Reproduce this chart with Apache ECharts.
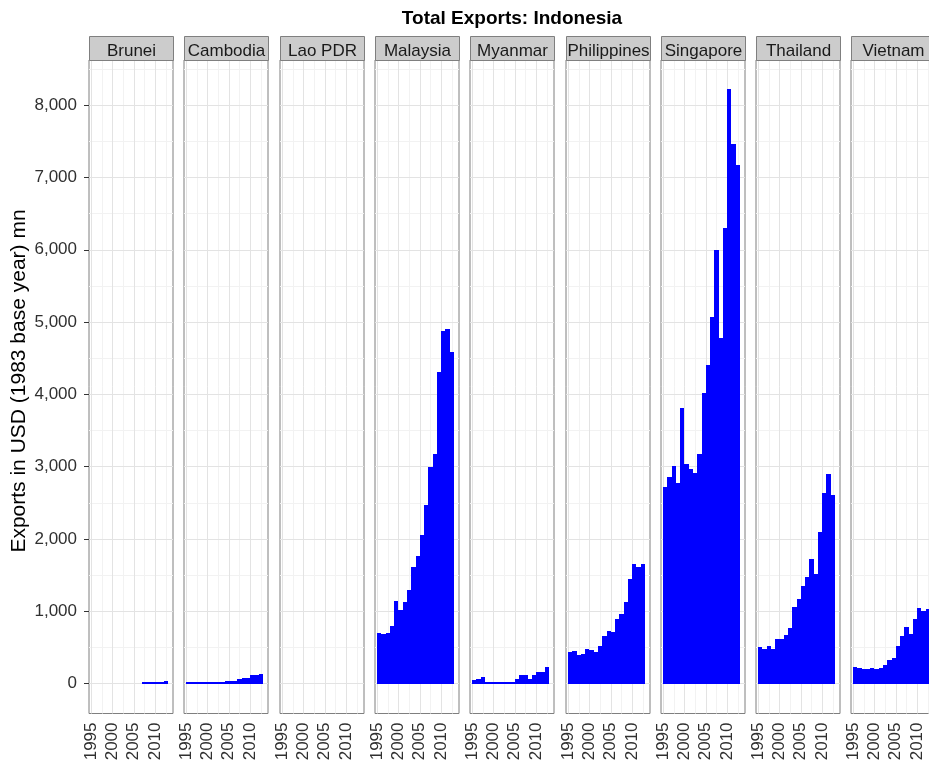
<!DOCTYPE html>
<html>
<head>
<meta charset="utf-8">
<script src="https://cdn.jsdelivr.net/npm/echarts@6/dist/echarts.min.js"></script>
<style>
html,body{margin:0;padding:0;background:#fff;}
#chart{width:929px;height:764px;}
</style>
</head>
<body>
<div id="chart"></div>
<script>
// ---------------- data ----------------
const countries = ['Brunei', 'Cambodia', 'Lao PDR', 'Malaysia', 'Myanmar', 'Philippines', 'Singapore', 'Thailand', 'Vietnam'];
const years = [1995, 1996, 1997, 1998, 1999, 2000, 2001, 2002, 2003, 2004, 2005, 2006, 2007, 2008, 2009, 2010, 2011, 2012];
const brunei      = [null, null, null, null, null, null, null, null, null, null, null, null, 18, 18, 18, 18, 18, 41];
const cambodia    = [18, 18, 18, 18, 18, 18, 18, 18, 18, 41, 41, 41, 60, 83, 83, 115, 115, 133];
const laoPDR      = [null, null, null, null, null, null, null, null, null, null, null, null, null, null, null, null, null, null];
const malaysia    = [700, 690, 695, 791, 1137, 1013, 1123, 1298, 1611, 1768, 2049, 2472, 3001, 3177, 4314, 4880, 4903, 4590];
const myanmar     = [46, 69, 92, 23, 23, 23, 23, 23, 23, 23, 69, 124, 124, 69, 124, 161, 161, 230];
const philippines = [437, 456, 400, 414, 479, 460, 437, 525, 654, 723, 709, 898, 967, 1123, 1450, 1653, 1612, 1653];
const singapore   = [2725, 2863, 3011, 2769, 3808, 3038, 2973, 2918, 3176, 4016, 4412, 5077, 5995, 4775, 6308, 8220, 7462, 7176];
const thailand    = [507, 483, 525, 483, 617, 617, 677, 769, 1054, 1169, 1344, 1473, 1722, 1519, 2095, 2634, 2896, 2601];
const vietnam     = [235, 212, 203, 203, 221, 203, 215, 262, 331, 354, 515, 653, 783, 690, 898, 1050, 1000, 1032];
const seriesValues = [brunei, cambodia, laoPDR, malaysia, myanmar, philippines, singapore, thailand, vietnam];

const yTicks = [0, 1000, 2000, 3000, 4000, 5000, 6000, 7000, 8000];
const yMinorTicks = [500, 1500, 2500, 3500, 4500, 5500, 6500, 7500, 8500];
const xTicks = [1995, 2000, 2005, 2010];
const xMinorTicks = [1997.5, 2002.5, 2007.5, 2012.5];

const titleText = 'Total Exports: Indonesia';
const yTitleText = 'Exports in USD (1983 base year) mn';

// ---------------- layout ----------------
const panelLeft0 = 89, pitch = 95.3, panelW = 84;
const panelTop = 60, panelH = 653.5;
const stripTop = 36, stripH = 24;
const yMin = -415, yMax = 8626;
const xMin = 1994.5, xMax = 2014.2;
const FONT = 'Liberation Sans, Arial, sans-serif';

const grids = [], xAxes = [], yAxes = [], series = [], graphics = [];

countries.forEach((name, i) => {
  const left = Math.round(panelLeft0 + pitch * i);
  grids.push({
    left: left, top: panelTop, width: panelW, height: panelH,
    show: true, borderColor: '#7f7f7f', borderWidth: 1, backgroundColor: '#ffffff',
    containLabel: false, outerBoundsMode: 'none'
  });
  xAxes.push({
    type: 'value', gridIndex: i, min: xMin, max: xMax, position: 'bottom',
    axisLine: { show: false },
    axisTick: { show: true, length: 4, customValues: xTicks, lineStyle: { color: '#333333', width: 1 } },
    axisLabel: {
      show: true, customValues: xTicks, rotate: 90, margin: 9,
      formatter: v => String(v), color: '#303030', fontSize: 17, fontFamily: FONT
    },
    splitLine: { show: false }, minorSplitLine: { show: false }
  });
  yAxes.push({
    type: 'value', gridIndex: i, min: yMin, max: yMax,
    axisLine: { show: false },
    axisTick: { show: i === 0, length: 5, customValues: yTicks, lineStyle: { color: '#333333', width: 1 } },
    axisLabel: {
      show: i === 0, customValues: yTicks, margin: 12,
      formatter: v => Number(v).toLocaleString('en-US'),
      color: '#303030', fontSize: 17, fontFamily: FONT
    },
    splitLine: { show: false }, minorSplitLine: { show: false }
  });
  const vals = seriesValues[i];
  const data = [];
  years.forEach((yr, k) => { if (vals[k] !== null) data.push([yr, vals[k]]); });
  const gridLines = [];
  yMinorTicks.forEach(v => gridLines.push({ yAxis: v, lineStyle: { color: '#f2f2f2', width: 1, type: 'solid' } }));
  xMinorTicks.forEach(v => gridLines.push({ xAxis: v, lineStyle: { color: '#f2f2f2', width: 1, type: 'solid' } }));
  yTicks.forEach(v => gridLines.push({ yAxis: v, lineStyle: { color: '#e3e3e3', width: 1, type: 'solid' } }));
  xTicks.forEach(v => gridLines.push({ xAxis: v, lineStyle: { color: '#e3e3e3', width: 1, type: 'solid' } }));
  series.push({
    type: 'custom', name: name, xAxisIndex: i, yAxisIndex: i, z: 3, clip: true,
    encode: { x: 0, y: 1 },
    data: data,
    renderItem: function (params, api) {
      const yr = api.value(0), v = api.value(1);
      if (v == null || isNaN(v)) return null;
      const p0 = api.coord([yr, 0]);
      const p1 = api.coord([yr + 1, v]);
      const x0 = Math.round(p0[0]), x1 = Math.round(p1[0]);
      const yb = Math.round(p0[1]), yt = Math.round(p1[1]);
      return {
        type: 'rect',
        shape: { x: x0, y: yt, width: x1 - x0, height: Math.max(1, yb - yt) },
        style: { fill: '#0000ff' }
      };
    },
    markLine: {
      silent: true, symbol: ['none', 'none'], z: 1, animation: false,
      label: { show: false }, emphasis: { disabled: true },
      data: gridLines
    }
  });
  // facet strip
  graphics.push({
    type: 'rect', silent: true, z: 10,
    shape: { x: left + 0.5, y: stripTop + 0.5, width: panelW, height: stripH },
    style: { fill: '#cccccc', stroke: '#7f7f7f', lineWidth: 1 }
  });
  graphics.push({
    type: 'text', silent: true, z: 11,
    x: left + panelW / 2 + 0.5, y: 51,
    style: { text: name, fill: '#1a1a1a', font: '17px ' + FONT, align: 'center', verticalAlign: 'middle' }
  });
});

graphics.push({
  type: 'text', silent: true, z: 11, x: 512, y: 19,
  style: { text: titleText, fill: '#000000', font: 'bold 19px ' + FONT, align: 'center', verticalAlign: 'middle' }
});
graphics.push({
  type: 'text', silent: true, z: 11, x: 19, y: 381, rotation: Math.PI / 2,
  style: { text: yTitleText, fill: '#000000', font: '21px ' + FONT, align: 'center', verticalAlign: 'middle' }
});

const chart = echarts.init(document.getElementById('chart'), null, { renderer: 'canvas' });
chart.setOption({
  animation: false,
  backgroundColor: '#ffffff',
  grid: grids,
  xAxis: xAxes,
  yAxis: yAxes,
  series: series,
  graphic: graphics
});
</script>
</body>
</html>
